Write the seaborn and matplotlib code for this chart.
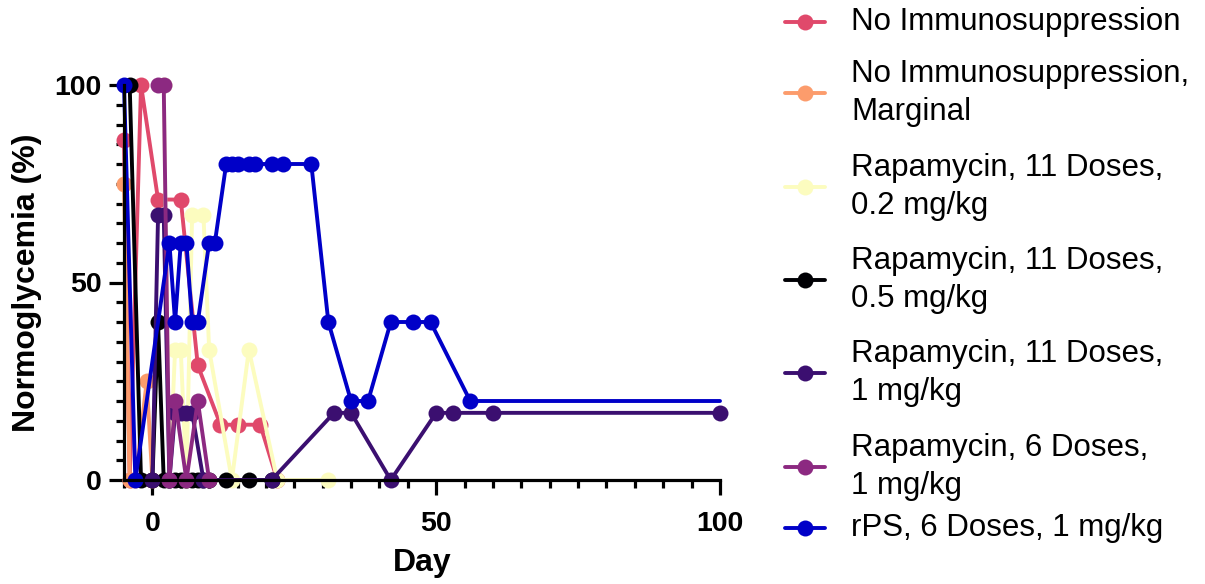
import numpy as np
import pandas as pd
import matplotlib
matplotlib.use("Agg")
import matplotlib.pyplot as plt
from matplotlib.ticker import MultipleLocator, FixedLocator
from matplotlib.lines import Line2D
import seaborn as sns

# ---- data ----
groups = [
    "No Immunosuppression",
    "No Immunosuppression,\nMarginal",
    "Rapamycin, 11 Doses,\n0.2 mg/kg",
    "Rapamycin, 11 Doses,\n0.5 mg/kg",
    "Rapamycin, 11 Doses,\n1 mg/kg",
    "Rapamycin, 6 Doses,\n1 mg/kg",
    "rPS, 6 Doses, 1 mg/kg",
]
colors = ["#e0496b", "#fc9c6c", "#fcfcbf", "#000004", "#3b0f70", "#8c2981", "#0000c8"]

no_imm_days = [-5, -4, -2, 1, 5, 8, 12, 15, 19, 22]
no_imm_vals = [86, 0, 100, 71, 71, 29, 14, 14, 14, 0]

marg_days = [-5, -4, -3, -1, 0]
marg_vals = [75, 0, 0, 25, 0]

r02_days = [2, 3, 4, 5, 6, 7, 9, 10, 14, 17, 22, 31]
r02_vals = [100, 0, 33, 33, 0, 67, 67, 33, 0, 33, 0, 0]

r05_days = [-4, -2, 0, 1, 2, 3, 4, 5, 6, 7, 8, 9, 10, 13, 17, 21]
r05_vals = [100, 0, 0, 40, 0, 0, 0, 0, 0, 0, 0, 0, 0, 0, 0, 0]

r1_days = [0, 1, 2, 3, 4, 5, 6, 7, 9, 21, 32, 35, 42, 50, 53, 60, 100]
r1_vals = [0, 67, 67, 0, 17, 17, 17, 17, 0, 0, 17, 17, 0, 17, 17, 17, 17]

r6_days = [1, 2, 3, 4, 6, 8, 10]
r6_vals = [100, 100, 0, 20, 0, 20, 0]

rps_days = [-5, -3, 3, 4, 5, 6, 7, 8, 10, 11, 13, 14, 15, 17, 18, 21, 23, 28, 31, 35, 38, 42, 46, 49, 56, 100]
rps_vals = [100, 0, 60, 40, 60, 60, 40, 40, 60, 60, 80, 80, 80, 80, 80, 80, 80, 80, 40, 20, 20, 40, 40, 40, 20, 20]

all_days = [no_imm_days, marg_days, r02_days, r05_days, r1_days, r6_days, rps_days]
all_vals = [no_imm_vals, marg_vals, r02_vals, r05_vals, r1_vals, r6_vals, rps_vals]

xticks = [0, 50, 100]
yticks = [0, 50, 100]

frames = []
for g, d, v in zip(groups, all_days, all_vals):
    frames.append(pd.DataFrame({"Day": d, "Normoglycemia": v, "Group": g}))
df = pd.concat(frames, ignore_index=True)

# ---- plot ----
sns.set_style("ticks")
plt.rcParams["font.family"] = ["Liberation Sans", "DejaVu Sans"]
plt.rcParams["text.color"] = "black"
plt.rcParams["axes.labelcolor"] = "black"
plt.rcParams["xtick.color"] = "black"
plt.rcParams["ytick.color"] = "black"

W, H = 1205, 584
fig = plt.figure(figsize=(W / 100, H / 100), dpi=100)
ax = fig.add_axes([124 / W, 1 - 480 / H, (720 - 124) / W, (480 - 85) / H])

palette = dict(zip(groups, colors))
sns.lineplot(data=df, x="Day", y="Normoglycemia", hue="Group", hue_order=groups,
             palette=palette, marker="o", markersize=11.5, markeredgewidth=0,
             linewidth=2.8, estimator=None, ax=ax, legend=False, clip_on=False)

# last rPS point has no marker
blue_line = ax.lines[len(groups) - 1]
blue_line.set_markevery(list(range(len(rps_days) - 1)))

ax.set_xlim(-5, 100)
ax.set_ylim(0, 100)
ax.xaxis.set_major_locator(FixedLocator(xticks))
ax.yaxis.set_major_locator(FixedLocator(yticks))
ax.xaxis.set_minor_locator(MultipleLocator(5))
ax.yaxis.set_minor_locator(MultipleLocator(5))

for s in ["top", "right"]:
    ax.spines[s].set_visible(False)
for s in ["left", "bottom"]:
    ax.spines[s].set_linewidth(2.3)
    ax.spines[s].set_color("black")

ax.tick_params(which="major", length=11, width=2.3, color="black", pad=5,
               labelsize=20.5, labelcolor="black")
ax.tick_params(axis="x", which="major", pad=11)
ax.tick_params(which="minor", length=6, width=2.3, color="black")
for lab in ax.get_xticklabels() + ax.get_yticklabels():
    lab.set_fontweight("bold")

ax.set_xlabel("Day", fontsize=23, fontweight="bold", labelpad=8)
ax.set_ylabel("Normoglycemia (%)", fontsize=23, fontweight="bold", labelpad=9)

# legend (manually placed entries)
entry_y = [22, 93, 187, 280, 373, 467, 528]
for g, c, yy in zip(groups, colors, entry_y):
    fy = 1 - yy / H
    fig.add_artist(Line2D([785 / W, 825 / W], [fy, fy], color=c, lw=2.8,
                          transform=fig.transFigure))
    fig.add_artist(Line2D([805 / W], [fy], color=c, marker="o", markersize=11.5,
                          markeredgewidth=0, transform=fig.transFigure))
    fig.text(851 / W, fy, g, fontsize=22.5, ha="left", va="center",
             multialignment="left", linespacing=1.33, color="black")

fig.savefig("out.png", dpi=100)
